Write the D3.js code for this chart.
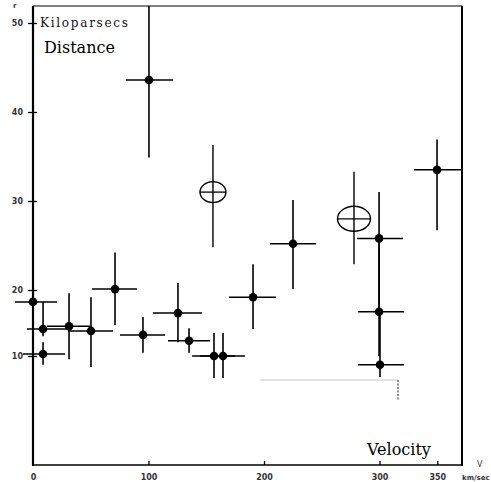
<!DOCTYPE html>
<html>
<head>
<meta charset="utf-8">
<script src="https://cdn.jsdelivr.net/npm/d3@7"></script>
<style>
  html, body { margin: 0; padding: 0; background: #fff; }
  svg { display: block; }
</style>
</head>
<body>
<svg id="chart" width="491" height="482"></svg>
<script>
// ---- Data ----
// Velocity (km/sec) and distance (kiloparsecs) with error ranges
const velocity  = [0, 8.7, 8.7, 31.2, 50.2, 71.0, 95.2, 100.4, 125.5, 135.1, 156.7, 164.5, 190.5, 225.1, 299.6, 299.6, 300.4, 349.8];
const distance  = [18.2, 14.1, 10.3, 14.5, 13.8, 20.1, 13.2, 43.6, 16.5, 12.3, 10.0, 10.0, 18.9, 25.2, 25.8, 16.7, 9.2, 33.5];
const velLow    = [-15.6, -5.2, -8.7, 12.1, 30.3, 51.1, 75.3, 80.5, 103.9, 116.9, 137.7, 144.6, 169.7, 205.2, 280.5, 281.4, 281.4, 329.9];
const velHigh   = [20.8, 29.4, 27.7, 49.4, 69.3, 90.0, 114.3, 121.2, 146.3, 153.2, 174.9, 183.5, 210.4, 245.0, 320.3, 321.2, 321.2, 371.4];
const distLow   = [13.9, 13.0, 9.2, 9.7, 9.0, 14.7, 10.5, 34.9, 12.1, 10.5, 8.0, 8.0, 14.1, 20.1, 16.4, 10.0, 8.1, 26.7];
const distHigh  = [21.5, 18.2, 12.1, 19.5, 18.9, 24.2, 15.9, 51.9, 20.8, 14.2, 13.5, 13.5, 22.9, 30.1, 31.0, 25.8, 16.7, 36.9];

// Open-circle points
const circVelocity = [155.8, 277.9];
const circDistance = [31.0, 28.0];
const circDistLow  = [24.8, 22.9];
const circDistHigh = [36.3, 33.3];
const circSize     = ["small", "large"];

// Tick labels
const xTicks = [0, 100, 200, 300, 350];
const yTicks = [10, 20, 30, 40, 50];

// ---- Scales ----
const svg = d3.select("#chart");
const x = d3.scaleLinear().domain([0, 371.4]).range([33, 462]);
// The scanned axis is not uniform below 20; follow its printed tick positions
const y = d3.scaleLinear().domain([0, 10, 20, 50]).range([466, 356, 290, 23]);
const yTop = 6;

const points = velocity.map((v, i) => ({
  v, d: distance[i], vl: velLow[i], vh: velHigh[i], dl: distLow[i], dh: distHigh[i]
}));
const circles = circVelocity.map((v, i) => ({
  v, d: circDistance[i], dl: circDistLow[i], dh: circDistHigh[i], size: circSize[i]
}));

// ---- Frame ----
const frame = svg.append("g");
frame.append("line").attr("x1", x(0)).attr("x2", x(0)).attr("y1", yTop).attr("y2", y(0))
  .attr("stroke", "#000").attr("stroke-width", 2.2);
frame.append("line").attr("x1", x(0)).attr("x2", 462).attr("y1", yTop).attr("y2", yTop)
  .attr("stroke", "#000").attr("stroke-width", 1.2);
frame.append("line").attr("x1", 462).attr("x2", 462).attr("y1", yTop).attr("y2", y(0))
  .attr("stroke", "#000").attr("stroke-width", 2);
frame.append("line").attr("x1", x(0)).attr("x2", 462).attr("y1", y(0) - 1).attr("y2", y(0) - 1)
  .attr("stroke", "#000").attr("stroke-width", 1.6);

// stray scan line
frame.append("line").attr("x1", 260).attr("x2", 398).attr("y1", 380).attr("y2", 380)
  .attr("stroke", "#c8c8c8").attr("stroke-width", 1);
frame.append("line").attr("x1", 398).attr("x2", 398).attr("y1", 380).attr("y2", 400)
  .attr("stroke", "#444").attr("stroke-width", 1.2).attr("stroke-dasharray", "2,1.5");

// ---- Axes ----
const yAxis = d3.axisLeft(y).tickValues(yTicks).tickFormat(d3.format("d")).tickSize(4).tickPadding(6);
const gy = svg.append("g").attr("transform", `translate(${x(0)},0)`).call(yAxis);
gy.select(".domain").remove();
gy.selectAll(".tick line").attr("x1", -5).attr("x2", 4).attr("stroke", "#000").attr("stroke-width", 1.3);
gy.selectAll(".tick text").attr("font-family", "DejaVu Sans").attr("font-size", 8)
  .attr("font-weight", "bold").attr("fill", "#333");

const xAxis = d3.axisBottom(x).tickValues(xTicks).tickFormat(d3.format("d")).tickSize(0).tickPadding(8);
const gx = svg.append("g").attr("transform", `translate(0,${y(0)})`).call(xAxis);
gx.select(".domain").remove();
gx.selectAll(".tick text").attr("font-family", "DejaVu Sans").attr("font-size", 8)
  .attr("font-weight", "bold").attr("fill", "#333");
gx.selectAll(".tick").filter(d => d > 0).append("line")
  .attr("y1", -5).attr("y2", -1).attr("stroke", "#000").attr("stroke-width", 1.3);

// ---- Error bars and dots ----
const g = svg.append("g");
g.selectAll("line.h").data(points).join("line").attr("class", "h")
  .attr("x1", d => x(d.vl)).attr("x2", d => x(d.vh))
  .attr("y1", d => y(d.d)).attr("y2", d => y(d.d))
  .attr("stroke", "#000").attr("stroke-width", 1.5);
g.selectAll("line.v").data(points).join("line").attr("class", "v")
  .attr("x1", d => x(d.v)).attr("x2", d => x(d.v))
  .attr("y1", d => y(d.dh)).attr("y2", d => y(d.dl))
  .attr("stroke", "#000").attr("stroke-width", 1.6);
g.selectAll("circle.dot").data(points).join("circle").attr("class", "dot")
  .attr("cx", d => x(d.v)).attr("cy", d => y(d.d)).attr("r", 4.3).attr("fill", "#000");

// ---- Open circles ----
const cg = svg.append("g");
const rx = s => s === "large" ? 16.5 : 13;
const ry = s => s === "large" ? 12.5 : 10.5;
cg.selectAll("line.cv").data(circles).join("line").attr("class", "cv")
  .attr("x1", d => x(d.v)).attr("x2", d => x(d.v))
  .attr("y1", d => y(d.dh)).attr("y2", d => y(d.dl))
  .attr("stroke", "#000").attr("stroke-width", 1.4);
cg.selectAll("ellipse").data(circles).join("ellipse")
  .attr("cx", d => x(d.v)).attr("cy", d => y(d.d))
  .attr("rx", d => rx(d.size)).attr("ry", d => ry(d.size))
  .attr("fill", "none").attr("stroke", "#000").attr("stroke-width", 1.4);
cg.selectAll("line.ch").data(circles).join("line").attr("class", "ch")
  .attr("x1", d => x(d.v) - rx(d.size)).attr("x2", d => x(d.v) + rx(d.size))
  .attr("y1", d => y(d.d)).attr("y2", d => y(d.d))
  .attr("stroke", "#000").attr("stroke-width", 1.3);

// ---- Labels ----
svg.append("text").attr("x", 40).attr("y", 27).text("Kiloparsecs")
  .attr("font-family", "DejaVu Serif").attr("font-size", 12).attr("fill", "#111")
  .attr("textLength", 88).attr("lengthAdjust", "spacing");
svg.append("text").attr("x", 44).attr("y", 53).text("Distance")
  .attr("font-family", "DejaVu Serif").attr("font-size", 16).attr("fill", "#000");
svg.append("text").attr("x", 367).attr("y", 455).text("Velocity")
  .attr("font-family", "DejaVu Serif").attr("font-size", 16).attr("fill", "#000");
svg.append("text").attr("x", 13).attr("y", 8).text("r")
  .attr("font-family", "DejaVu Sans").attr("font-size", 7).attr("font-weight", "bold").attr("fill", "#333");
svg.append("text").attr("x", 477).attr("y", 467).text("V")
  .attr("font-family", "DejaVu Sans").attr("font-size", 8).attr("fill", "#333");
svg.append("text").attr("x", 462).attr("y", 480).text("km/sec")
  .attr("font-family", "DejaVu Sans").attr("font-size", 7).attr("font-weight", "bold").attr("fill", "#333");
</script>
</body>
</html>
